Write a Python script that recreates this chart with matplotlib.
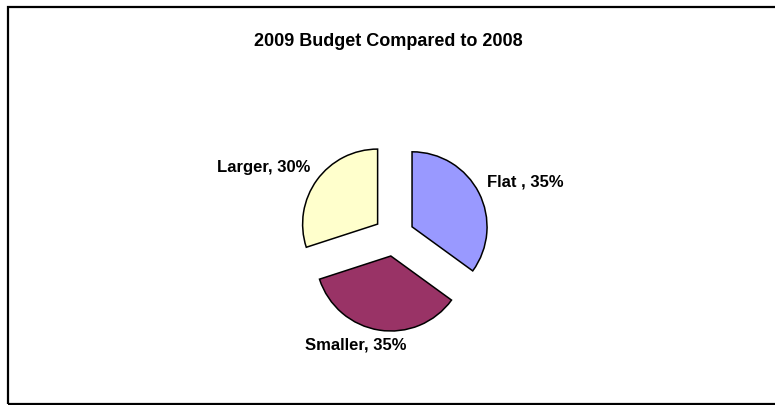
import numpy as np
import matplotlib
matplotlib.use('Agg')
import matplotlib.pyplot as plt
from matplotlib.patches import Rectangle

# data
labels = ['Flat', 'Smaller', 'Larger']
shares = [35, 35, 30]
colors = ['#9999FF', '#993366', '#FFFFCC']
title = '2009 Budget Compared to 2008'

plt.rcParams['font.family'] = ['Liberation Sans', 'DejaVu Sans']

fig = plt.figure(figsize=(7.75, 4.05), dpi=100)
fig.patch.set_facecolor('white')

# outer chart border (right side runs off the picture)
fig.patches.append(Rectangle((8 / 775, 1.5 / 405), 1.0, 397 / 405,
                             transform=fig.transFigure, fill=False,
                             edgecolor='black', linewidth=1.6, clip_on=False))

fig.text(0.501, 0.886, title, ha='center', va='baseline',
         fontsize=13, fontweight='bold')

ax = fig.add_axes([244 / 775, 19 / 405, 300 / 775, 300 / 405])
wedges, _ = ax.pie(shares, colors=colors, startangle=90, counterclock=False,
                   explode=[0.27] * 3,
                   wedgeprops=dict(edgecolor='black', linewidth=1.1))
ax.set_xlim(-2, 2)
ax.set_ylim(-2, 2)
ax.set_aspect('equal')
ax.axis('off')

# data labels like Excel "Category, Percent", offset from each wedge's tip
texts = ['%s , %d%%' % (labels[0], shares[0]),
         '%s, %d%%' % (labels[1], shares[1]),
         '%s, %d%%' % (labels[2], shares[2])]
offsets = [(1.0, 0.6), (-0.47, -1.19), (-0.89, 0.76)]
aligns = ['left', 'center', 'right']
for w, t, (dx, dy), ha in zip(wedges, texts, offsets, aligns):
    cx, cy = w.center
    ax.text(cx + dx, cy + dy, t, ha=ha, va='center',
            fontsize=12, fontweight='bold')

fig.savefig('out.png', dpi=100)
